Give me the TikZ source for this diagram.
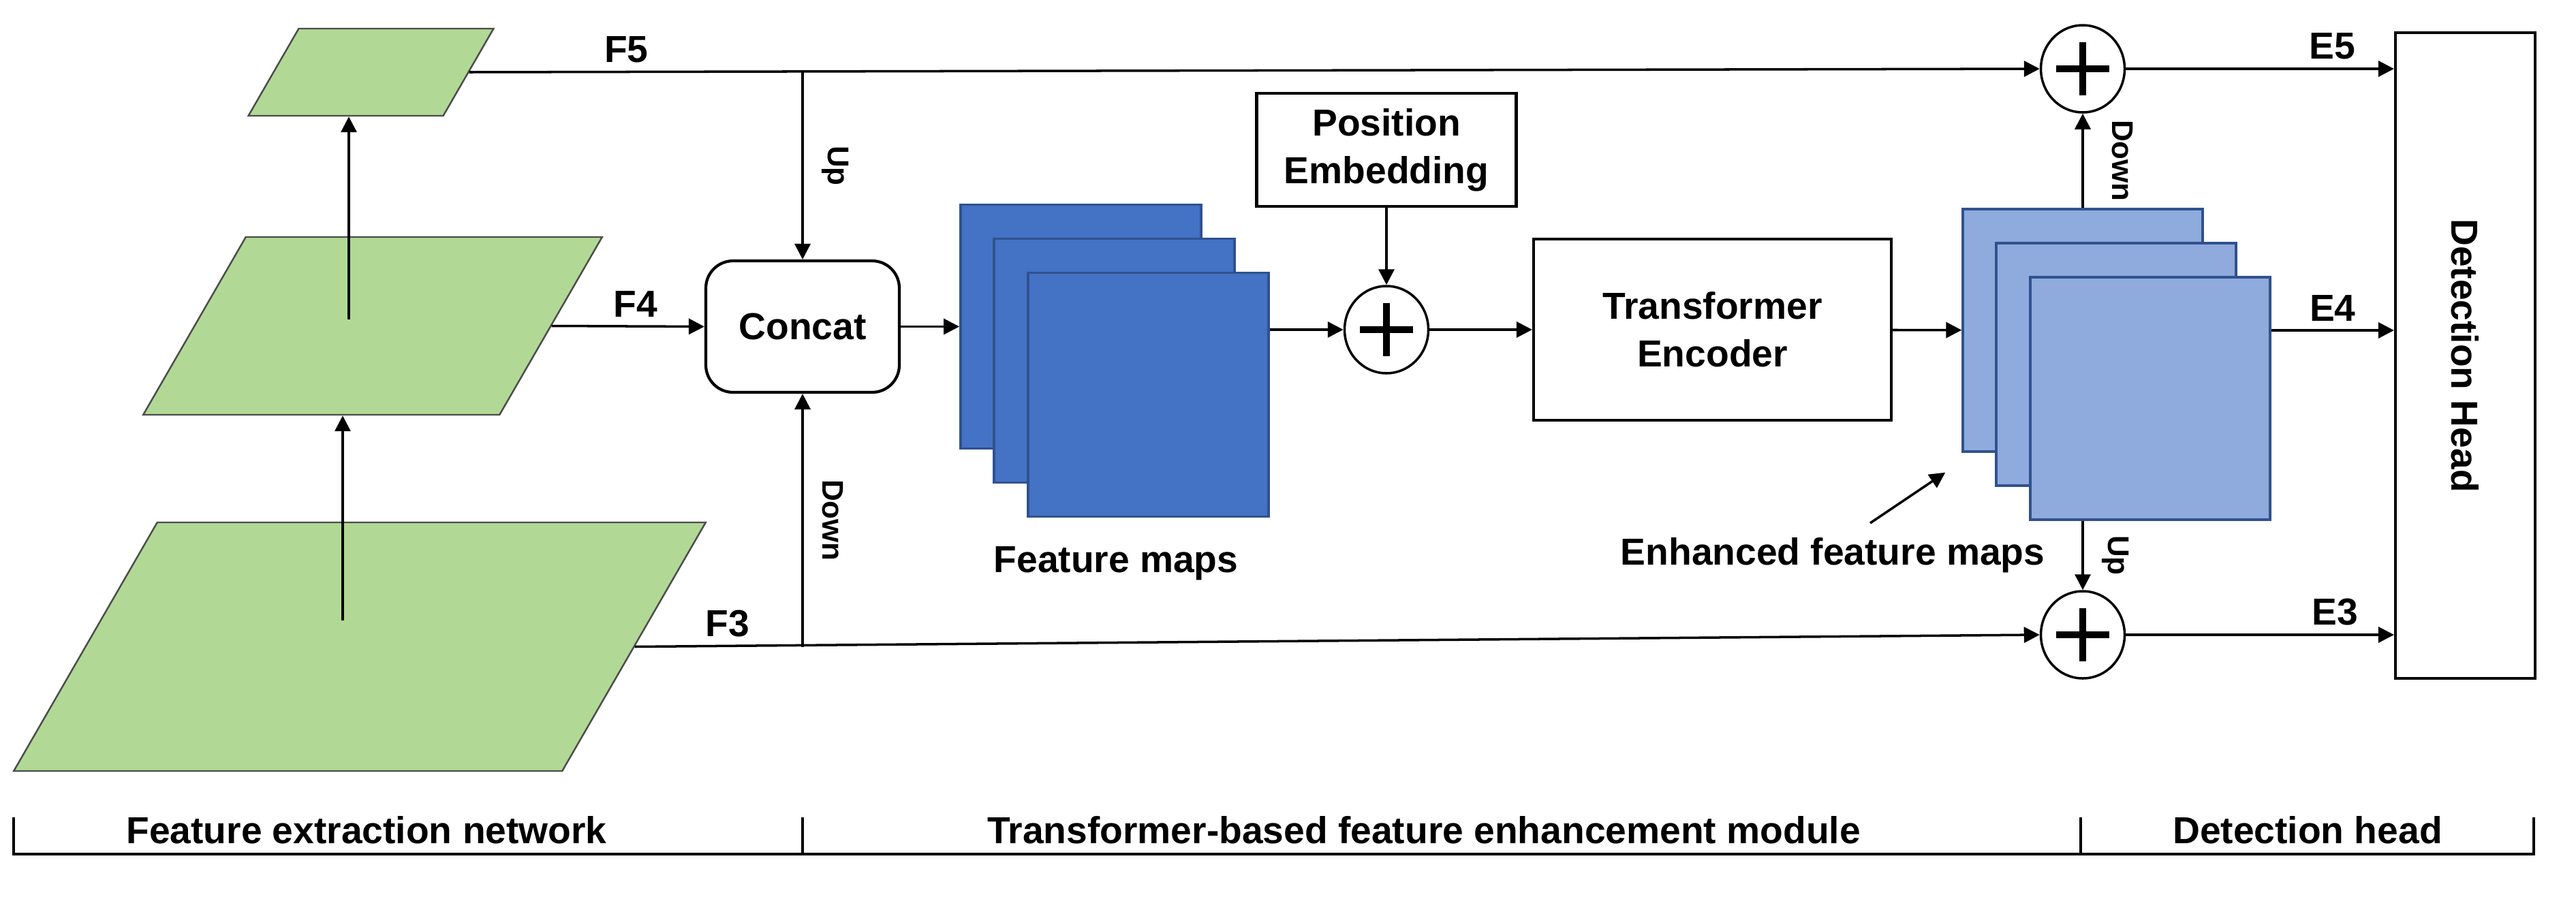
\documentclass[tikz,border=0pt]{standalone}
\usepackage{fontspec}
\setmainfont{Liberation Sans}
\usepackage{graphicx}
\usetikzlibrary{shapes.geometric,arrows.meta,positioning}
\definecolor{lvgreen}{RGB}{177,217,149}
\definecolor{fmblue}{RGB}{68,114,196}
\definecolor{emblue}{RGB}{143,170,220}
\definecolor{mapedge}{RGB}{47,82,143}
\newcommand{\bigfont}{\fontsize{15.7}{20}\selectfont\bfseries}
\newcommand{\smallfont}{\fontsize{12.5}{15}\selectfont\bfseries}
\tikzset{
  level/.style={rectangle, xslant=0.577, transform shape, fill=lvgreen, draw=black!70,
    line width=0.7pt, inner sep=0pt},
  block/.style={draw, line width=1.2pt, align=center, font=\bigfont},
  fmap/.style={draw=mapedge, line width=1pt, fill=fmblue, minimum width=3.53cm, minimum height=3.58cm},
  emap/.style={fmap, fill=emblue, minimum width=3.52cm, minimum height=3.56cm},
  addop/.style={ellipse, draw, line width=1pt, minimum width=1.23cm, minimum height=1.28cm, inner sep=0pt,
    path picture={\draw[line width=2.6pt]
      ([xshift=-0.39cm]path picture bounding box.center) -- ([xshift=0.39cm]path picture bounding box.center)
      ([yshift=-0.39cm]path picture bounding box.center) -- ([yshift=0.39cm]path picture bounding box.center);}},
  lbl/.style={font=\bigfont},
  updown/.style={font=\smallfont, rotate=-90, anchor=south, inner sep=0.27cm},
}
\begin{document}
\begin{tikzpicture}[>={Triangle[length=0.23cm,width=0.23cm]}, line width=1pt]
\useasboundingbox (0,0) rectangle (37.81,-13.16);
% backbone levels
\node[level, minimum width=2.86cm, minimum height=1.28cm] (p5) at (5.445,-1.06) {};
\node[level, minimum width=5.23cm, minimum height=2.61cm] (p4) at (5.47,-4.785) {};
\node[level, minimum width=8.05cm, minimum height=3.65cm] (p3) at (5.28,-9.495) {};
\draw[->] ([shift={(-0.25,0.385)}]p3.center) coordinate (s3) -- (s3 |- p4.south);
\draw[->] ([shift={(-0.35,0.095)}]p4.center) coordinate (s4) -- (s4 |- p5.south);

% enhancement module
\node[block, rounded corners=0.4cm, minimum width=2.84cm, minimum height=1.93cm] (concat) at (11.78,-4.795) {Concat};
\node[fmap, right=0.86cm of concat] (fm1) {};
\node[fmap] (fm2) at ([shift={(0.49,-0.5)}]fm1) {};
\node[fmap] (fm3) at ([shift={(0.99,-1)}]fm1) {};
\node[lbl, anchor=base] (fml) at (16.38,-8.40) {Feature maps};
\node[addop] (add) at (20.35,-4.84) {};
\node[block, minimum width=3.81cm, minimum height=1.66cm, above=1.13cm of add] (pe) {Position\\Embedding};
\node[block, minimum width=5.25cm, minimum height=2.66cm] (te) at (25.135,-4.84) {Transformer\\Encoder};
\node[emap] (em1) at (30.57,-4.85) {};
\node[emap] (em2) at ([shift={(0.49,-0.5)}]em1) {};
\node[emap] (em3) at ([shift={(0.99,-1)}]em1) {};
\node[lbl, anchor=base] (efm) at (26.9,-8.29) {Enhanced feature maps};
\node[addop] (addtop) at (em1 |- 0,-1.01) {};
\node[addop] (addbot) at (em1 |- 0,-9.32) {};

% head
\node[block, minimum width=2.05cm, minimum height=9.48cm] (dh) at (36.185,-5.22) {\rotatebox{-90}{Detection Head}};

% connections
\draw[->] (p5.east) -- node[lbl, above, pos=0.1] {F5} (addtop.west);
\draw[->] (concat.north |- p5.east) -- node[updown, midway] {Up} (concat.north);
\draw[->] (p4.east) -- node[lbl, above, pos=0.55] {F4} (concat.west);
\draw[->] (p3.east) -- node[lbl, above, pos=0.066] {F3} (addbot.west);
\draw[->] (concat.south |- p3.east) -- node[updown, midway] {Down} (concat.south);
\draw[->] (concat) -- (fm1);
\draw[->] (add -| fm3.east) -- (add.west);
\draw[->] (pe) -- (add);
\draw[->] (add) -- (te);
\draw[->] (te) -- (em1);
\draw[->] (em1.north) -- node[updown, midway, inner sep=0.41cm] {Down} (addtop.south);
\draw[->] (addbot |- em3.south) -- node[updown, midway] {Up} (addbot.north);
\draw[->] ([shift={(0.55,0.61)}]efm.base) -- ([shift={(-0.24,-0.29)}]em1.south west);
\draw[->] (addtop) -- node[lbl, above, pos=0.77] {E5} (addtop -| dh.west);
\draw[->] (em1 -| em3.east) -- node[lbl, above, pos=0.5] {E4} (em1 -| dh.west);
\draw[->] (addbot) -- node[lbl, above, pos=0.78] {E3} (addbot -| dh.west);

% stages
\draw (0.2,-12) -- (0.2,-12.54) -- (37.19,-12.54) -- (37.19,-12);
\draw (11.78,-12) -- (11.78,-12.54);
\draw (30.54,-12) -- (30.54,-12.54);
\node[lbl, anchor=base] (sec1) at (5.38,-12.38) {Feature extraction network};
\node[lbl, anchor=base] (sec2) at (20.90,-12.38) {Transformer-based feature enhancement module};
\node[lbl, anchor=base] (sec3) at (33.87,-12.38) {Detection head};
\end{tikzpicture}
\end{document}
